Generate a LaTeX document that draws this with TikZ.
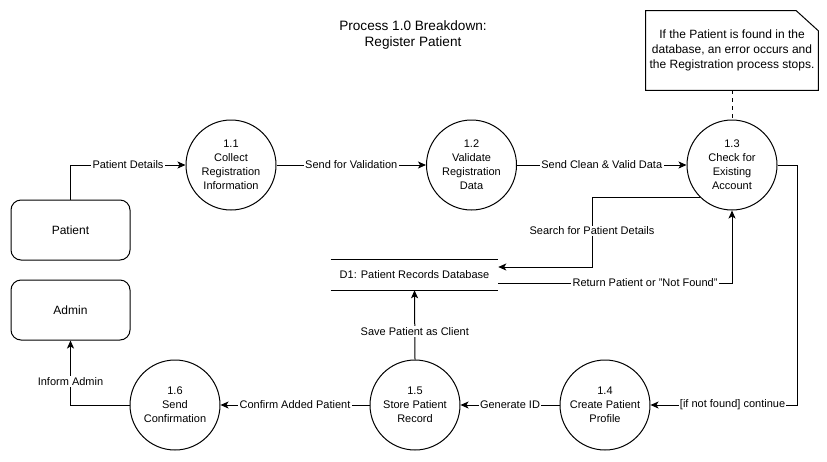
\documentclass[tikz,border=0pt]{standalone}
\usepackage{fontspec}
\setmainfont{Liberation Sans}
\usetikzlibrary{arrows.meta, positioning, calc}
\tikzset{
	procnode/.style={
			circle,
			draw=black,
			line width=0.75pt,
			fill=white,
			minimum size=67.5pt,
			inner sep=0pt,
			align=center,
			font=\fontsize{8.25}{10.5}\selectfont
		},
	extnode/.style={
			rectangle,
			rounded corners=7.5pt,
			draw=black,
			line width=0.75pt,
			minimum width=89.25pt,
			minimum height=45pt,
			font=\fontsize{9}{10.5}\selectfont
		},
	storenode/.style={
			rectangle,
			draw=none,
			minimum width=125.25pt,
			minimum height=22.5pt,
			inner sep=0pt,
			font=\fontsize{8.25}{10.5}\selectfont
		},
	notenode/.style={
			rectangle,
			draw=none,
			minimum width=129pt,
			minimum height=59.25pt,
			inner sep=0pt,
			align=center,
			font=\fontsize{9}{11.25}\selectfont
		},
	titlenode/.style={
			align=center,
			font=\fontsize{10.2}{12}\selectfont
		},
	flow/.style={
			line width=0.75pt,
			-{Stealth[length=6pt, width=5.25pt, inset=1.5pt]}
		},
	flowlabel/.style={
			fill=white,
			inner sep=1pt,
			font=\fontsize{8.25}{10}\selectfont
		}
}

\begin{document}
\begin{tikzpicture}[x=0.75pt, y=-0.75pt]
\useasboundingbox (0,0) rectangle (827,461);

\node[titlenode] (tTitle) at (413,35) {Process 1.0 Breakdown:\\Register Patient};

\node[extnode] (tPatient) at (70.5,230) {Patient};
\node[extnode] (tAdmin) at (70.5,310) {Admin};

\node[procnode] (t11) at (231,165) {1.1\\Collect\\Registration\\Information};
\node[procnode] (t12) at (471.5,165) {1.2\\Validate\\Registration\\Data};
\node[procnode] (t13) at (732,165) {1.3\\Check for\\Existing\\Account};
\node[procnode] (t14) at (605,405) {1.4\\Create Patient\\Profile};
\node[procnode] (t15) at (415,405) {1.5\\Store Patient\\Record};
\node[procnode] (t16) at (175,405) {1.6\\Send\\Confirmation};

\node[storenode] (tStore) at (414.5,275) {D1: Patient Records Database};
\draw[line width=0.75pt] (tStore.north west) -- (tStore.north east);
\draw[line width=0.75pt] (tStore.south west) -- (tStore.south east);

\node[notenode] (tNote) at (732,50.5) {If the Patient is found in the\\database, an error occurs and\\the Registration process stops.};
\draw[line width=0.75pt] (tNote.north west) -- ([xshift=-16.5pt]tNote.north east)
  -- ([yshift=-15pt]tNote.north east) -- (tNote.south east) -- (tNote.south west) -- cycle;
\draw[line width=0.75pt, dash pattern=on 3pt off 3pt] (tNote.south) -- (t13.north);


\draw[flow] (tPatient.north) |- node[flowlabel, pos=0.75] {Patient Details} (t11.west);
\draw[flow] (t11) edge node[flowlabel] {Send for Validation} (t12);
\draw[flow] (t12) edge node[flowlabel] {Send Clean \& Valid Data} (t13);
\draw[flow] (t13.east) -- (797,165) |- node[flowlabel, pos=0.72] {[if not found] continue} (t14.east);
\draw[flow] (t14) edge node[flowlabel] {Generate ID} (t15);
\draw[flow] (t15) edge node[flowlabel] {Confirm Added Patient} (t16);
\draw[flow] (t16.west) -| node[flowlabel, pos=0.68] {Inform Admin} (tAdmin.south);

\draw[flow] (t15.north) -- node[flowlabel, pos=0.4] {Save Patient as Client} (tStore.south);
\draw[flow] (t13.225) -| (592,231) node[flowlabel] {Search for Patient Details} |- ([yshift=6pt]tStore.east);
\draw[flow] ([yshift=-6pt]tStore.east) -| node[flowlabel, pos=0.314] {Return Patient or "Not Found"} (t13.south);

\end{tikzpicture}
\end{document}
